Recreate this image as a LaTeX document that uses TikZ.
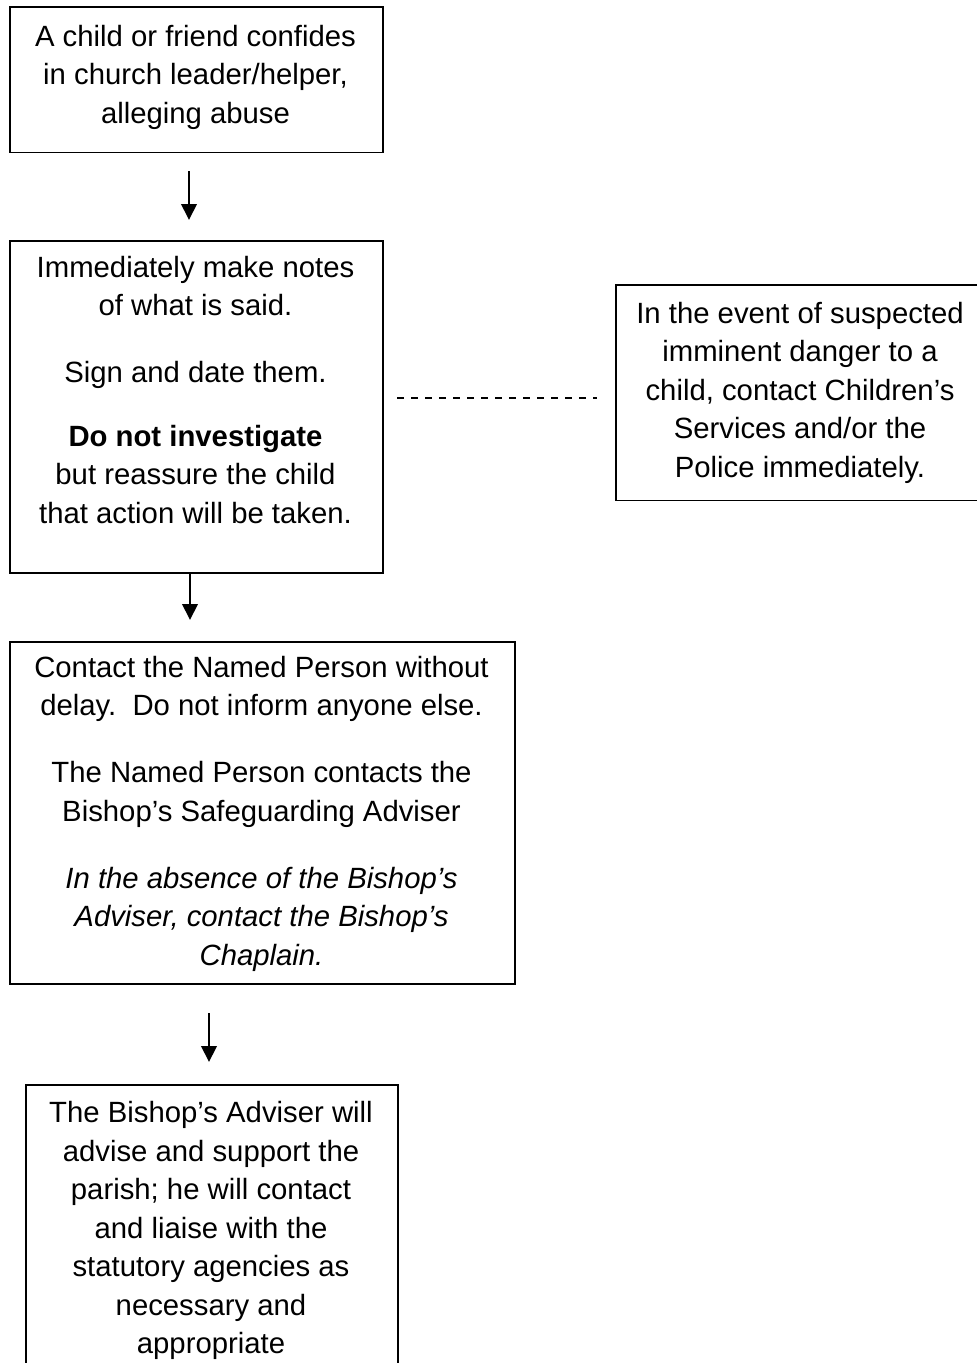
\documentclass[tikz,border=0pt]{standalone}
\usepackage{fontspec}
\setmainfont{Liberation Sans}
\usetikzlibrary{arrows.meta}
\begin{document}
\begin{tikzpicture}[x=1pt,y=-1pt,
  box/.style={draw=black,line width=1.9pt,inner sep=0pt,anchor=north west,fill=none},
  txt/.style={inner sep=0pt,align=center,anchor=north,font=\fontsize{29.3pt}{38.5pt}\selectfont},
  arr/.style={line width=2pt,-{Triangle[width=15.5pt,length=16pt]}},
  dashline/.style={line width=1.9pt,dash pattern=on 7pt off 7pt}]
\useasboundingbox (0,0) rectangle (977,1363);
\fill[white] (0,0) rectangle (977,1363);
% boxes
\node[box,minimum width=373pt,minimum height=145.5pt] (b1) at (9,6) {};
\node[box,minimum width=373pt,minimum height=332pt] (b2) at (9,240) {};
\node[box,minimum width=505pt,minimum height=342pt] (b3) at (9,641) {};
\node[box,minimum width=372pt,minimum height=300pt] (b4) at (25,1084) {};
\node[box,minimum width=370pt,minimum height=215.5pt] (b5) at (615,284) {};
% texts
\node[txt] (t1) at (195.5,24.6) {A child or friend confides\\in church leader/helper,\\alleging abuse};
\node[txt] (t2) at (195.5,255.6) {Immediately make notes\\of what is said.\\[28.5pt]Sign and date them.\\[25pt]\textbf{Do not investigate}\\but reassure the child\\that action will be taken.};
\node[txt] (t3) at (261.5,655.6) {Contact the Named Person without\\delay.\ \ Do not inform anyone else.\\[28.5pt]The Named Person contacts the\\Bishop’s Safeguarding Adviser\\[28.5pt]\textit{In the absence of the Bishop’s}\\\textit{Adviser, contact the Bishop’s}\\\textit{Chaplain.}};
\node[txt] (t4) at (211,1101.5) {The Bishop’s Adviser will\\advise and support the\\parish; he will contact\\and liaise with the\\statutory agencies as\\necessary and\\appropriate};
\node[txt] (t5) at (800,301.6) {In the event of suspected\\imminent danger to a\\child, contact Children’s\\Services and/or the\\Police immediately.};
% connectors
\coordinate (a1s) at (189,171);
\coordinate (a1e) at (189,220);
\coordinate (a2s) at (190,572);
\coordinate (a2e) at (190,620);
\coordinate (a3s) at (209,1013);
\coordinate (a3e) at (209,1062);
\coordinate (d1s) at (397,398);
\coordinate (d1e) at (597,398);
\draw[arr] (a1s) -- (a1e);
\draw[arr] (a2s) -- (a2e);
\draw[arr] (a3s) -- (a3e);
\draw[dashline] (d1s) -- (d1e);
\end{tikzpicture}
\end{document}
